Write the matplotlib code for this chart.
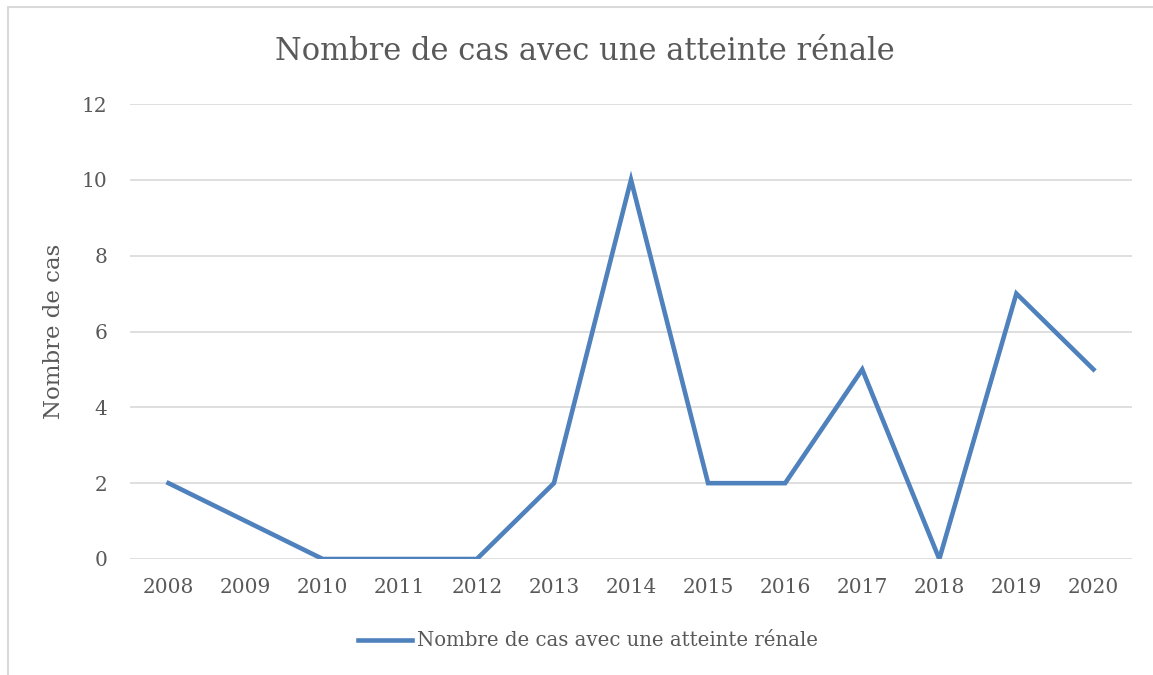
import matplotlib
matplotlib.use("Agg")
import matplotlib.pyplot as plt
from matplotlib.patches import Rectangle

years = ["2008", "2009", "2010", "2011", "2012", "2013", "2014",
         "2015", "2016", "2017", "2018", "2019", "2020"]
cases = [2, 1, 0, 0, 0, 2, 10, 2, 2, 5, 0, 7, 5]
yticks = [0, 2, 4, 6, 8, 10, 12]

TEXT = "#595959"
BLUE = "#4F81BD"
GRID = "#D9D9D9"

plt.rcParams['font.family'] = ['DejaVu Serif']

W, H = 1153, 675
fig = plt.figure(figsize=(W / 100, H / 100), dpi=100)

# outer chart border (cut off at right and bottom in the reference)
fig.patches.append(Rectangle((8 / W, -0.05), 1.2, (H - 7) / H + 0.05,
                             transform=fig.transFigure, fill=False,
                             edgecolor=GRID, linewidth=1.5))

ax = fig.add_axes([130 / W, (H - 559) / H, (1132 - 130) / W, (559 - 104) / H])
x = range(len(years))
ax.plot(x, cases, color=BLUE, linewidth=3.3, solid_joinstyle='miter',
        label="Nombre de cas avec une atteinte rénale", zorder=3)

ax.set_xlim(-0.5, len(years) - 0.5)
ax.set_ylim(0, 12)
ax.set_yticks(yticks)
ax.set_xticks(list(x))
ax.set_xticklabels(years)
ax.grid(axis='y', color=GRID, linewidth=1.2)
ax.set_axisbelow(True)
for s in ax.spines.values():
    s.set_visible(False)
ax.tick_params(length=0, labelsize=14.5, colors=TEXT)
ax.tick_params(axis='y', pad=16.5)
ax.tick_params(axis='x', pad=14)

ax.set_ylabel("Nombre de cas", fontsize=16.5, color=TEXT, labelpad=12)
fig.text(585 / W, 1 - 51 / H, "Nombre de cas avec une atteinte rénale",
         ha='center', va='center', fontsize=22, color=TEXT)

leg = fig.legend(loc='center', bbox_to_anchor=(588 / W, 1 - 641 / H),
                 frameon=False, fontsize=14.2, handlelength=2.75,
                 handletextpad=0.25, labelcolor=TEXT)

fig.savefig("out.png", dpi=100)
